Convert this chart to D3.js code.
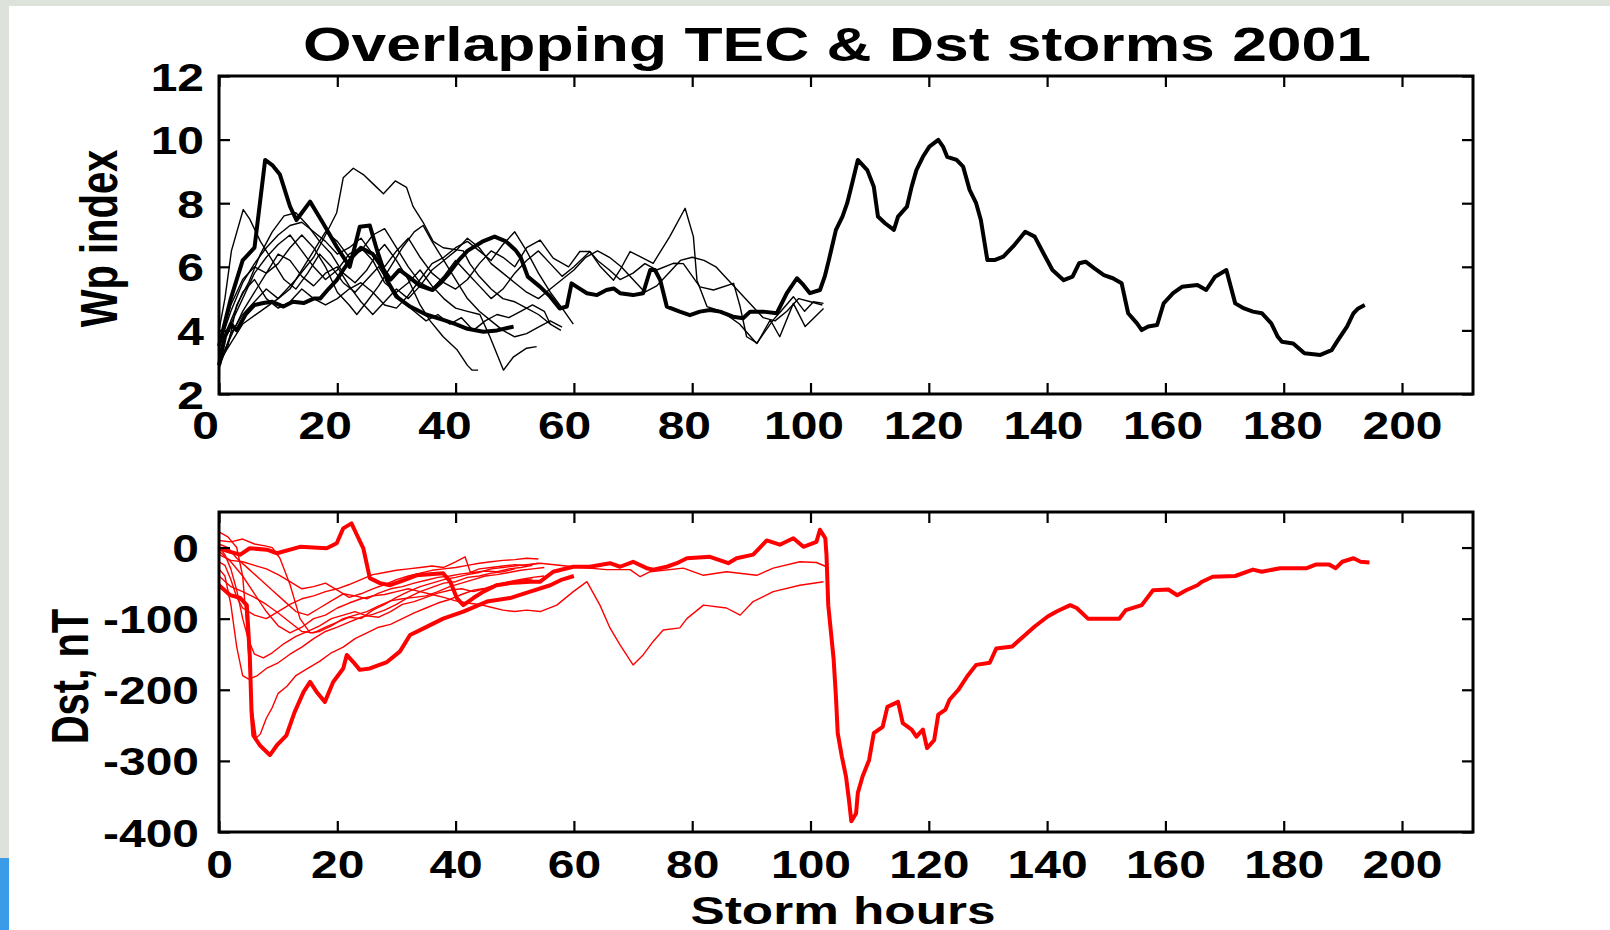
<!DOCTYPE html>
<html>
<head>
<meta charset="utf-8">
<script src="https://cdn.jsdelivr.net/npm/d3@7"></script>
<style>
body { margin: 0; background: #dde3da; }
svg { display: block; }
</style>
</head>
<body>
<svg id="chart" width="1610" height="930"></svg>
<script>
// tick values
var hourTicks = [0, 20, 40, 60, 80, 100, 120, 140, 160, 180, 200];
var wpTicks   = [2, 4, 6, 8, 10, 12];
var dstTicks  = [-400, -300, -200, -100, 0];

// Wp index, [storm hour, Wp] -- thick lines
var wpLong = [[0,2.9],[1,3.8],[2,4.2],[3,4.0],[4.5,4.5],[6,4.8],[7.5,4.86],[9,4.9],[10.9,4.75],[12.5,4.9],[14.3,4.86],[16,5.0],[17.1,5.0],[18.5,5.3],[19.9,5.58],[21,5.9],[22.5,6.3],[24,6.6],[26,6.4],[27.5,6.0],[29,5.6],[30.5,5.9],[32,5.7],[34,5.4],[36.1,5.27],[37.5,5.5],[38.9,5.8],[40.5,6.2],[42,6.5],[44.5,6.79],[46.6,6.95],[48.5,6.8],[50.1,6.53],[51,6.3],[52.2,5.69],[54.3,5.37],[56,5.06],[57.6,4.69],[58.8,4.75],[59.6,5.48],[60.5,5.37],[62.2,5.17],[63.9,5.11],[65.5,5.27],[66.7,5.32],[67.8,5.17],[70,5.11],[71.7,5.17],[72.9,5.9],[73.7,5.9],[74.6,5.58],[75.7,4.75],[77.9,4.59],[79.6,4.48],[81.3,4.59],[83,4.64],[84.7,4.59],[86.9,4.43],[88.6,4.38],[89.8,4.59],[92,4.59],[94.3,4.54],[96,5.17],[97.7,5.64],[98.8,5.43],[99.9,5.17],[101.6,5.27],[102.4,5.69],[103.1,6.21],[104.3,7.16],[105.4,7.58],[106.2,8.0],[106.9,8.52],[108,9.36],[109.6,9.04],[110.7,8.52],[111.4,7.58],[112.6,7.37],[114.1,7.16],[114.8,7.58],[116.3,7.89],[117.1,8.52],[117.9,9.04],[119,9.46],[120.1,9.78],[121.6,9.99],[122.4,9.78],[123.1,9.46],[124.7,9.36],[125.8,9.15],[126.9,8.42],[128,8.0],[128.8,7.47],[129.9,6.21],[131.1,6.21],[132.6,6.32],[134.5,6.69],[136.3,7.1],[137.9,6.95],[139.4,6.42],[140.9,5.9],[142.8,5.58],[144.3,5.69],[145.4,6.11],[146.5,6.16],[148,5.95],[149.6,5.74],[151.1,5.64],[152.6,5.48],[153.7,4.54],[155.2,4.22],[156,4.01],[157.1,4.12],[158.6,4.17],[159.7,4.85],[161.3,5.17],[162.8,5.37],[165.4,5.43],[166.9,5.27],[168.4,5.69],[170.3,5.9],[171.8,4.85],[173.3,4.69],[174.8,4.59],[176.3,4.54],[177.9,4.22],[179,3.8],[179.7,3.64],[181.6,3.59],[183.5,3.28],[186.2,3.23],[188.1,3.38],[189.2,3.7],[190.7,4.12],[191.8,4.54],[192.6,4.69],[193.7,4.8]];
var wpBold2 = [[0,3.5],[2,5.0],[4,6.2],[6,6.6],[7.8,9.36],[9,9.2],[10.3,8.9],[12,7.9],[13.1,7.47],[15.4,8.05],[17.6,7.37],[19.9,6.63],[22.1,6.0],[23.8,7.26],[25.5,7.3],[26.7,6.53],[28.4,5.58],[30,5.06],[32.3,4.75],[35,4.5],[37.9,4.33],[40,4.2],[42,4.05],[44.7,3.96],[47,4.0],[49.8,4.12]];

// Wp index -- thin lines
var wpA = [[0,3.0],[2,3.6],[4,4.2],[7,4.6],[10,5.0],[13,5.6],[16,6.3],[18,7.0],[19.9,7.7],[21,8.8],[22.7,9.1],[24.4,8.9],[26.1,8.6],[27.8,8.3],[29.8,8.7],[31.7,8.5],[32.8,7.9],[34.5,7.4],[36.2,6.8],[37.9,6.6],[41.3,6.5],[42.4,6.1],[44,5.7],[46,5.3],[48,5.0],[50,4.9],[52,4.7],[54,4.5],[56,4.2],[57.8,4.0]];
var wpB = [[0,2.9],[1.5,3.5],[3,4.8],[5,5.5],[7,6.4],[9,7.1],[11,7.6],[13,7.7],[15,7.3],[17,6.8],[19,6.4],[21,5.8],[23,5.5],[25,5.9],[27,6.5],[28,6.7],[30,6.2],[32,5.6],[34,4.8],[35.7,4.3],[37.9,3.8],[40.2,3.4],[42,2.9],[42.8,2.75],[43.8,2.75]];
var wpC = [[0,3.3],[2,4.2],[4,5.0],[6,5.8],[8,6.3],[10,6.7],[12,7.0],[14,6.5],[16,6.0],[18,5.6],[20,5.9],[22,6.4],[24,6.6],[26,6.2],[28,5.5],[30,5.2],[32,5.5],[34,5.9],[36,5.4],[38,5.0],[40,4.7],[42,4.6],[44.1,4.5],[45.8,3.8],[48.1,2.75],[49.8,3.17],[52,3.44],[53.7,3.49]];
var wpD = [[0,4.0],[1,5.0],[2.1,6.5],[4.1,7.8],[5.2,7.5],[7,6.8],[9,6.2],[11,5.6],[13,5.3],[15,5.8],[17,6.4],[19,6.0],[21,5.5],[23,5.2],[25,5.6],[27,6.0],[29,5.4],[31,4.9],[33,4.6],[35,4.3],[37,4.5],[39,4.2],[41,4.4],[43,4.0],[45,4.3],[47,4.5],[49,4.4],[51,4.6],[53,4.8],[55,4.6],[56,4.2]];
var wpE = [[0,3.5],[2,4.6],[4,5.5],[6,6.1],[8,6.6],[10,7.0],[12,7.3],[14,7.4],[16,7.1],[18,6.8],[20,6.4],[22,6.6],[24,6.9],[26,6.4],[28,6.0],[30,6.5],[32,6.9],[34,6.3],[36,5.8],[38,5.5],[40,5.3],[42,5.6],[44,6.1],[46,6.5],[48,6.3],[50,6.0],[52,6.6],[54.3,6.84],[56.5,6.27],[59.1,6.0],[61,6.48],[62.7,6.48],[64.5,6.0],[66.7,5.58],[67.8,5.9],[69.5,6.48],[71.2,6.32],[73.4,6.11],[76.2,6.95],[78.8,7.84],[80.2,6.95],[80.8,5.58],[82.5,4.75],[85,4.6],[88,4.2],[90.9,3.59],[93.7,4.33],[95,4.6],[97.1,5.06],[99,4.6],[100.5,4.9],[102.2,4.85]];
var wpF = [[0,2.8],[2,3.9],[4,4.5],[6,4.9],[8,5.3],[10,5.0],[12,5.3],[14,5.9],[16,6.5],[18,7.1],[20,6.8],[22,6.3],[24,6.5],[26,7.0],[28,7.2],[30,6.6],[32,6.0],[34,5.5],[36,5.3],[38,5.7],[40,6.2],[42,5.8],[44,5.4],[46,5.0],[48,5.3],[50,5.8],[52,6.2],[54,6.5],[56,6.1],[58,5.7],[60,6.0],[62.7,6.48],[64,6.2],[66,5.9],[67.8,5.6],[70,5.8],[72,6.1],[74,5.9],[76.8,6.11],[78.5,6.1],[81.3,5.37],[83.6,5.27],[87,5.48],[88.1,4.75],[89.2,3.8],[91,3.6],[93.2,4.33],[94.8,3.8],[97.1,4.85],[99.1,4.12],[102.2,4.69]];
var wpG = [[0,3.2],[2,4.3],[4,5.2],[6,5.6],[8,5.0],[10,4.7],[12,4.9],[14,5.3],[16,5.0],[18,4.8],[20,5.0],[22,5.3],[24,5.5],[26,5.2],[28,4.8],[30,4.7],[32,5.1],[34,5.6],[36,6.1],[38,6.3],[40,6.6],[42,6.8],[44,6.5],[46,6.2],[48,6.7],[50,7.1],[52,6.5],[54,5.8],[56,5.2],[58,4.7],[59.9,4.2]];
var wpH = [[0,3.0],[2,3.8],[4,4.6],[6,5.2],[8,5.8],[10,6.4],[12,6.2],[14,5.7],[16,5.4],[18,5.8],[20,6.0],[22,5.4],[24,4.9],[26,4.5],[28,4.9],[30,5.3],[32,5.0],[34,5.4],[36,5.9],[38,6.2],[40,6.5],[42,6.9],[44,6.6],[46,6.1],[48,5.8],[50,5.5],[52,5.2],[54,5.0],[56,5.3],[58,5.6],[60,5.9],[62,6.3],[64,6.5],[66,6.3],[68,6.0],[70,5.6],[72,5.2],[74,5.4],[76,5.8],[78,6.2],[80,6.3],[82,6.2],[84,6.0],[86,5.6],[88,5.2],[90,4.8],[92,4.4],[94,4.3],[96,4.6],[98,5.0],[100,4.9],[102,4.8]];
var wpI = [[0,3.6],[2,4.8],[4,5.6],[6,6.0],[8,5.8],[10,6.1],[12,6.6],[14,7.0],[16,6.6],[18,6.0],[20,5.2],[22,4.8],[23.3,4.5],[25,4.9],[27,5.4],[29,6.0],[31,6.6],[33,7.1],[34.5,7.3],[36,6.8],[38,6.2],[40,5.6],[42,5.0],[44,4.6],[46,4.3],[48,4.0],[50,3.8],[52,3.9],[54,4.1],[56,4.3],[58,4.1]];

// Dst, [storm hour, nT] -- thick lines
var dstLong = [[0,-1],[1.9,-6],[3.6,-10],[5.2,-1],[8.1,-3],[9.8,-8],[13.7,1],[18.2,-1],[19.9,6],[21,27],[22.4,34],[23.3,18],[24.4,-1],[25,-24],[25.5,-43],[27.2,-50],[28.9,-53],[31.2,-46],[33.4,-39],[37.9,-36],[39.1,-48],[40.2,-71],[41.3,-81],[43,-71],[44.7,-62],[46.9,-53],[49.2,-50],[52.6,-48],[54.3,-48],[56.5,-34],[59.9,-27],[62.7,-27],[66.1,-22],[67.8,-27],[70,-20],[72.3,-29],[73.4,-31],[75.7,-27],[77.4,-22],[79.1,-15],[83,-13],[86.1,-22],[87.5,-15],[90.3,-10],[92.6,10],[94.8,4],[97.1,13],[98.8,1],[101,8],[101.6,25],[102.5,13],[102.7,-10],[103,-81],[103.9,-156],[104.3,-210],[104.6,-261],[105.3,-294],[106,-322],[106.5,-355],[106.9,-385],[107.7,-374],[108,-345],[108.8,-322],[109.9,-299],[110.7,-261],[112.2,-252],[113,-224],[114.8,-217],[115.6,-247],[117.1,-256],[117.9,-266],[119,-256],[119.7,-282],[120.9,-271],[121.6,-235],[122.8,-228],[123.5,-214],[125,-200],[126.5,-181],[128,-165],[130.3,-162],[131.4,-142],[134.1,-139],[136,-125],[137.9,-111],[140.1,-97],[141.6,-90],[143.9,-81],[145,-85],[146.9,-100],[152.2,-100],[153.3,-88],[156,-81],[157.9,-60],[160.5,-59],[162,-67],[163.5,-60],[165.4,-53],[166.2,-48],[168,-41],[171.8,-40],[174.8,-31],[176.3,-34],[179.4,-29],[183.9,-29],[185.4,-24],[187.7,-24],[188.8,-29],[189.9,-20],[191.8,-15],[193,-20],[194.5,-21]];
var dstBold2 = [[0,-53],[1.9,-67],[3.6,-71],[4.7,-81],[5.2,-151],[5.5,-231],[5.8,-264],[6.9,-278],[8.6,-292],[9.8,-278],[11.4,-264],[12.8,-231],[14.3,-203],[15.4,-189],[16.5,-203],[17.9,-217],[19.3,-189],[21,-170],[21.6,-151],[22.7,-161],[23.8,-172],[25.5,-170],[28.4,-161],[30.6,-146],[32.3,-123],[34.5,-114],[37.9,-100],[41.3,-90],[45.3,-76],[49.2,-71],[52.6,-62],[56,-53],[58,-45],[60,-40]];

// Dst -- thin lines
var dstA = [[0,22],[1.5,15],[3,0],[4,-40],[4.8,-120],[5.5,-220],[6.3,-268],[7,-262],[8,-240],[9,-225],[10,-205],[11.5,-195],[13,-180],[15,-170],[17,-160],[19,-148],[21,-140],[23,-128],[25,-120],[27,-112],[29,-108],[31,-100],[33,-92],[35,-85],[37,-78],[39,-73],[41,-66],[43,-60],[45,-57],[47,-52],[49,-48],[51,-45],[53,-42],[55,-40]];
var dstB = [[0,-30],[1,-40],[2,-80],[3,-140],[4,-180],[5,-185],[6.5,-180],[8,-170],[10,-162],[12,-150],[14,-140],[16,-128],[18,-118],[20,-112],[22,-105],[24,-98],[26,-94],[28,-88],[30,-80],[32,-70],[34,-62],[36,-56],[38,-50],[40,-48],[42,-42],[44,-40],[46,-36],[48,-34],[50,-30]];
var dstC = [[0,0],[1,-10],[2,-30],[3,-60],[4,-100],[5,-130],[6,-150],[7.5,-155],[9,-148],[11,-135],[13,-125],[15,-118],[17,-110],[19,-100],[21,-95],[23,-90],[25,-96],[27,-98],[29,-90],[31,-80],[33,-76],[35,-70],[37,-64],[39,-60],[41,-58],[43,-62],[45,-58],[47,-52],[49,-50],[51,-46],[53,-44]];
var dstD = [[0,5],[1.5,0],[3,-15],[5,-30],[7,-45],[9,-60],[11,-75],[13,-90],[15,-95],[17,-85],[19,-75],[21,-65],[23,-68],[25,-72],[27,-64],[29,-58],[31,-55],[33,-50],[35,-46],[37,-42],[39,-40],[41,-37],[43,-35],[45,-33],[47,-34],[49,-30],[51,-28],[53,-25]];
var dstE = [[0,10],[2,8],[4,12],[6,5],[8,2],[9,0],[10.3,-15],[12,-52],[13.7,-100],[15.4,-120],[17,-118],[19,-110],[21,-100],[23,-95],[25,-90],[27,-82],[29,-75],[31,-72],[33,-70],[35,-68],[37,-62],[39,-55],[41,-50],[43,-45],[45,-40],[47,-38],[49,-35],[51,-32],[53,-30],[55,-28]];
var dstF = [[0,-10],[2,-18],[4,-20],[6,-25],[8,-30],[10,-38],[12,-48],[14,-58],[16,-55],[18,-50],[20,-60],[22,-70],[24,-65],[26,-58],[28,-52],[30,-45],[32,-40],[34,-36],[36,-32],[38,-30],[40,-28],[42,-25],[44,-22],[46,-20],[48,-18],[50,-17],[52,-15],[54,-16]];
var dstG = [[0,-20],[1,-25],[2,-45],[3,-70],[4,-85],[6,-95],[8,-100],[10,-90],[12,-80],[14,-72],[16,-68],[18,-62],[20,-58],[22,-52],[24,-45],[26,-38],[28,-35],[30,-32],[32,-30],[34,-28],[36,-26],[38,-28],[40,-20],[41.6,-13],[42.5,-35],[44,-30],[46,-28],[48,-26],[50,-24],[52,-25],[54,-22]];
var dstH = [[0,-40],[2,-55],[4,-62],[6,-70],[8,-80],[10,-92],[12,-105],[14,-118],[16,-120],[18,-112],[20,-105],[22,-98],[24,-100],[26,-88],[28,-80],[30,-70],[32,-62],[34,-55],[36,-50],[38,-45],[40,-42],[42,-38],[44,-35],[46,-30],[48,-28],[50,-26],[52,-24],[54.3,-22],[59.9,-27],[65.5,-31],[69.5,-31],[71.2,-41],[72.9,-34],[78.5,-29],[81.9,-39],[85.8,-34],[90.9,-39],[93.7,-29],[98.2,-20],[101,-21],[102.7,-27]];
var dstI = [[0,-5],[2,-20],[4,-40],[6,-65],[8,-90],[10,-110],[12,-120],[14,-112],[16,-100],[18,-95],[20,-85],[22,-78],[24,-72],[26,-68],[28,-66],[30,-62],[32,-58],[34,-62],[36,-66],[38,-70],[40,-75],[42,-78],[44,-80],[46,-84],[48,-88],[50,-90],[52,-88],[54.3,-90],[57.1,-81],[59.9,-62],[62.2,-48],[64.4,-81],[66.1,-113],[67.8,-137],[70,-165],[71.7,-151],[73.4,-132],[75.1,-116],[77.9,-113],[79.1,-100],[81.9,-81],[85.8,-85],[88.1,-95],[90.3,-76],[93.7,-62],[98.2,-53],[102.2,-48]];

var wpThin  = [wpA, wpB, wpC, wpD, wpE, wpF, wpG, wpH, wpI];
var wpThick = [wpBold2, wpLong];
var dstThin  = [dstA, dstB, dstC, dstD, dstE, dstF, dstG, dstH, dstI];
var dstThick = [dstBold2, dstLong];

var svg = d3.select("#chart");
var font = "'Liberation Sans', Arial, sans-serif";
var tickScale = 1.23;

// white slide area
svg.append("rect")
    .attr("x", 9).attr("y", 6)
    .attr("width", 1601).attr("height", 924)
    .style("fill", "white");
svg.append("rect")
    .attr("x", 0).attr("y", 858)
    .attr("width", 9).attr("height", 72)
    .style("fill", "#3a9be8");

var x = d3.scaleLinear().domain([0, 212]).range([219, 1473]);
var yWp  = d3.scaleLinear().domain([2, 12]).range([394, 76]);
var yDst = d3.scaleLinear().domain([-400, 50]).range([832, 512]);

function drawPanel(y, thin, thick, colour, yTicks, opts) {
    var top = y.range()[1], bottom = y.range()[0];
    var left = x.range()[0], right = x.range()[1];

    var line = d3.line()
        .x(function(d) { return x(d[0]); })
        .y(function(d) { return y(d[1]); });

    var g = svg.append("g");
    g.selectAll("path.thin")
        .data(thin)
        .enter().append("path")
        .attr("class", "thin")
        .attr("d", line)
        .style("fill", "none")
        .style("stroke", colour)
        .style("stroke-width", 1.4)
        .style("stroke-linejoin", "round");
    g.selectAll("path.thick")
        .data(thick)
        .enter().append("path")
        .attr("class", "thick")
        .attr("d", line)
        .style("fill", "none")
        .style("stroke", colour)
        .style("stroke-width", 4)
        .style("stroke-linejoin", "round");

    // axes, ticks pointing inwards
    var bx = svg.append("g")
        .attr("transform", "translate(0," + bottom + ")")
        .call(d3.axisBottom(x).tickValues(hourTicks).tickSizeInner(-11).tickSizeOuter(0));
    bx.selectAll("text")
        .attr("y", opts.xLabelBase - bottom)
        .attr("dy", 0)
        .attr("x", function(d) { return opts.xShift(d) / tickScale; })
        .attr("transform", "scale(" + tickScale + ",1)");

    var tx = svg.append("g")
        .attr("transform", "translate(0," + top + ")")
        .call(d3.axisTop(x).tickValues(hourTicks).tickSizeInner(-11).tickSizeOuter(0).tickFormat(""));

    var ly = svg.append("g")
        .attr("transform", "translate(" + left + ",0)")
        .call(d3.axisLeft(y).tickValues(yTicks).tickSizeInner(-11).tickSizeOuter(0)
            .tickFormat(function(d) { return String(d); }));
    ly.selectAll("text")
        .attr("x", (opts.yLabelRight - left) / tickScale)
        .attr("dy", "0.36em")
        .attr("transform", "scale(" + tickScale + ",1)");

    var ry = svg.append("g")
        .attr("transform", "translate(" + right + ",0)")
        .call(d3.axisRight(y).tickValues(yTicks).tickSizeInner(-11).tickSizeOuter(0).tickFormat(""));

    [bx, tx, ly, ry].forEach(function(a) {
        a.select(".domain").remove();
        a.selectAll("line").style("stroke", "black").style("stroke-width", 2.2);
        a.selectAll("text")
            .style("font-family", font)
            .style("font-weight", "bold")
            .style("font-size", "39px")
            .style("fill", "black");
    });

    svg.append("rect")
        .attr("x", left).attr("y", top)
        .attr("width", right - left).attr("height", bottom - top)
        .style("fill", "none")
        .style("stroke", "black")
        .style("stroke-width", 3);
}

drawPanel(yWp, wpThin, wpThick, "black", wpTicks, {
    xLabelBase: 439,
    yLabelRight: 204,
    xShift: function(d) { return -14 * (1 - d / 200); }
});
drawPanel(yDst, dstThin, dstThick, "#ff0000", dstTicks, {
    xLabelBase: 878,
    yLabelRight: 199,
    xShift: function(d) { return 0; }
});

// title and axis labels
svg.append("text")
    .attr("transform", "translate(837,61) scale(1.3,1)")
    .attr("text-anchor", "middle")
    .style("font-family", font).style("font-weight", "bold").style("font-size", "48px")
    .text("Overlapping TEC & Dst storms 2001");

svg.append("text")
    .attr("transform", "translate(843,924) scale(1.35,1)")
    .attr("text-anchor", "middle")
    .style("font-family", font).style("font-weight", "bold").style("font-size", "38px")
    .text("Storm hours");

svg.append("text")
    .attr("transform", "translate(117,238.5) rotate(-90) scale(1,1.3)")
    .attr("text-anchor", "middle")
    .style("font-family", font).style("font-weight", "bold").style("font-size", "40px")
    .text("Wp index");

svg.append("text")
    .attr("transform", "translate(88,676.5) rotate(-90) scale(1,1.3)")
    .attr("text-anchor", "middle")
    .style("font-family", font).style("font-weight", "bold").style("font-size", "40px")
    .text("Dst, nT");
</script>
</body>
</html>
